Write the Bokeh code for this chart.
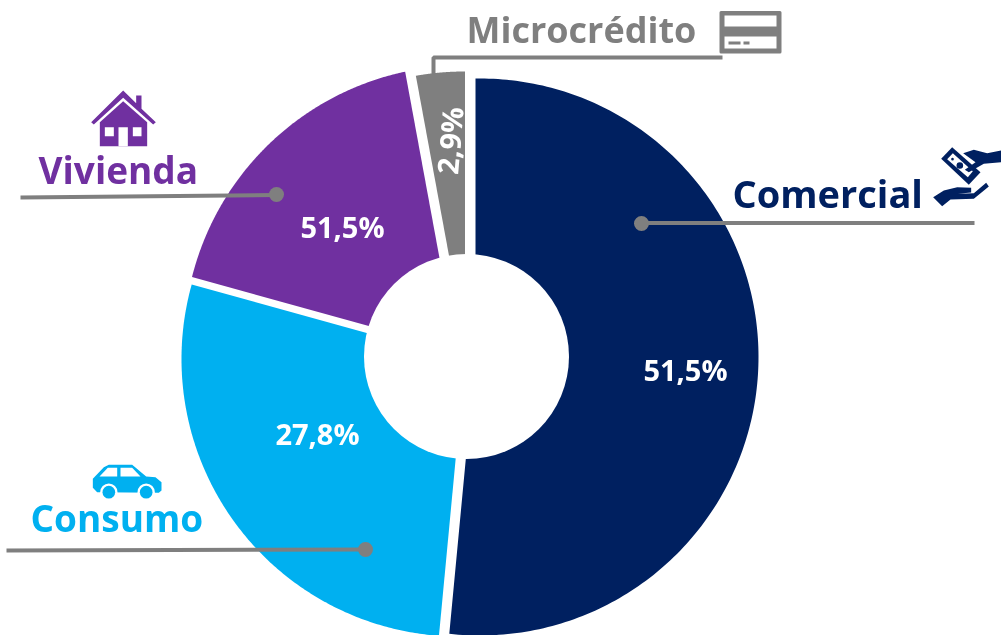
import math
from bokeh.plotting import figure
from bokeh.models import Range1d
from bokeh.core.properties import value
from bokeh.embed import file_html
from bokeh.resources import INLINE

# ---- data ----
categories = ["Comercial", "Consumo", "Vivienda", "Microcrédito"]
shares = [51.5, 27.8, 17.8, 2.9]
share_labels = ["51,5%", "27,8%", "51,5%", "2,9%"]
colors = ["#002060", "#00B0F0", "#7030A0", "#7F7F7F"]

# ---- layout (pixel space of the picture) ----
W, H = 1001, 635
CX, CY = 466, 356
HOLE = 102.5
APEX = [(475.0, 356.0), (464.5, 359.7), (456.0, 349.8), (464.5, 342.0)]
OUTER = [(479.5, 356.5, 278.5), (458.5, 358.5, 277.5), (463.0, 345.0, 280.0), (464.0, 349.0, 278.0)]
GREY = "#7F7F7F"

p = figure(width=W, height=H, x_range=Range1d(0, W), y_range=Range1d(H, 0),
           toolbar_location=None, output_backend="svg", min_border=0,
           outline_line_color=None, background_fill_color="white",
           styles={"position": "fixed", "left": "0", "top": "0"})
p.xaxis.visible = False
p.yaxis.visible = False
p.grid.visible = False


def ray_to_circle(ax, ay, th, cx, cy, r):
    dx, dy = math.sin(th), -math.cos(th)
    fx, fy = ax - cx, ay - cy
    b = fx * dx + fy * dy
    c = fx * fx + fy * fy - r * r
    t = -b + math.sqrt(b * b - c)
    return ax + t * dx, ay + t * dy


total = sum(shares)
start = 0.0
for share, color, (ax, ay), (ocx, ocy, r) in zip(shares, colors, APEX, OUTER):
    sweep = share / total * 2 * math.pi
    xs, ys = [ax], [ay]
    for i in range(201):
        x, y = ray_to_circle(ax, ay, start + sweep * i / 200, ocx, ocy, r)
        xs.append(x)
        ys.append(y)
    p.patch(xs, ys, fill_color=color, line_color=None)
    start += sweep

p.circle([CX], [CY], radius=HOLE, fill_color="white", line_color=None)


# ---- icons: traced outlines, given in zoom-crop pixels ----
def shape(pts, ox, oy, color):
    p.patch([ox + a / 3 for a, _ in pts], [oy + b / 3 for _, b in pts], fill_color=color, line_color=None)


def disc(x, y, r, ox, oy, color):
    p.circle([ox + x / 3], [oy + y / 3], radius=r / 3, fill_color=color, line_color=None)


# card
p.quad(left=[720.5], right=[779.5], top=[12], bottom=[51.5], fill_color=GREY, line_color=GREY,
       line_width=3, line_join="round")
p.quad(left=[724, 724], right=[776, 776], top=[15, 36], bottom=[26, 48], fill_color="white", line_color=None)
p.quad(left=[728, 743], right=[740, 749], top=[41, 41], bottom=[44, 44], fill_color=GREY, line_color=None)

# house
PUR = colors[2]
shape([(242, 125), (338, 30), (377, 68), (377, 45), (393, 45), (393, 85), (436, 125), (428, 132),
       (338, 52), (250, 132)], 10, 80, PUR)
shape([(268, 197), (268, 125), (338, 62), (410, 125), (410, 197)], 10, 80, PUR)
for a, b, c, d in [(283, 310, 140, 167), (367, 393, 140, 167), (324, 352, 140, 197)]:
    shape([(a, c), (b, c), (b, d), (a, d)], 10, 80, "white")

# car
CYA = colors[1]
shape([(277, 85), (310, 50), (325, 43), (395, 43), (437, 78), (465, 80), (483, 95), (483, 120),
       (475, 127), (290, 125), (277, 112)], 0, 450, CYA)
shape([(297, 78), (350, 78), (350, 52), (322, 52)], 0, 450, "white")
shape([(360, 52), (395, 52), (420, 78), (360, 78)], 0, 450, "white")
for x in (325, 437):
    disc(x, 125, 26, 0, 450, "white")
    disc(x, 125, 19, 0, 450, CYA)

# money and hands
NAV = colors[0]
shape([(662, 85), (695, 50), (780, 125), (745, 163)], 720, 130, NAV)
shape([(680, 86), (697, 68), (757, 122), (742, 140)], 720, 130, "white")
disc(718, 105, 10, 720, 130, NAV)
disc(696, 86, 4, 720, 130, NAV)
shape([(728, 68), (760, 58), (800, 68), (843, 60), (843, 95), (790, 100), (745, 125), (733, 118),
       (765, 95)], 720, 130, NAV)
shape([(638, 200), (670, 180), (710, 170), (752, 172), (752, 186), (712, 190), (760, 188), (797, 157),
       (805, 168), (760, 205), (690, 207), (665, 227)], 720, 130, NAV)

# ---- leader lines ----
p.line([641, 974], [222.5, 222.5], line_color=GREY, line_width=4)
p.line([20, 276], [197, 194.5], line_color=GREY, line_width=4)
p.line([6, 365], [550, 549], line_color=GREY, line_width=4)
p.line([433, 433, 722], [74, 57, 57], line_color=GREY, line_width=4)
p.scatter([641, 276, 365], [223, 194, 549], size=15, fill_color=GREY, line_color=None)

# ---- texts ----
FONT = value("Open Sans")
name_x = [732, 30, 38, 466]
name_y = [192, 517, 169, 29]
name_size = ["38px", "37px", "37px", "36px"]
name_color = [colors[0], colors[1], colors[2], GREY]
for t, x, y, s, c in zip(categories, name_x, name_y, name_size, name_color):
    p.text([x], [y], text=[t], text_font=FONT, text_font_style="bold", text_font_size=s, text_color=c,
           text_align="left", text_baseline="alphabetic")

label_x = [685, 317, 342, 449]
label_y = [369, 433, 226, 140]
label_angle = [0, 0, 0, 85]
for t, x, y, a in zip(share_labels, label_x, label_y, label_angle):
    p.text([x], [y], text=[t], text_font=FONT, text_font_style="bold", text_font_size="29px",
           text_color="white", text_align="center", text_baseline="middle", angle=a, angle_units="deg")

open("out.html", "w").write(file_html(p, INLINE))
